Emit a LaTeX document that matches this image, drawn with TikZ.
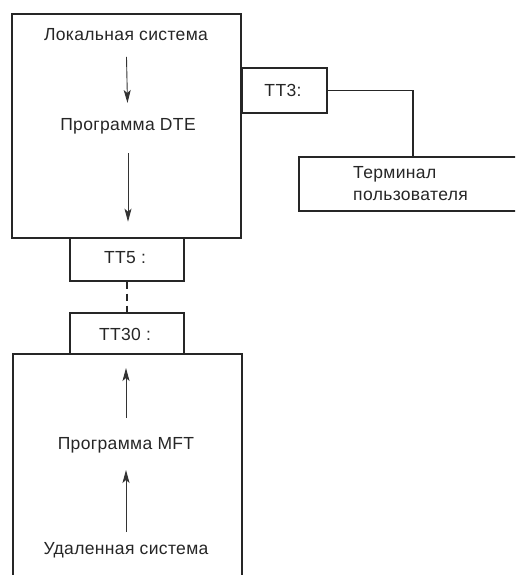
\documentclass[tikz,border=0pt]{standalone}
\usepackage{fontspec}
\setmainfont{Liberation Sans}
\newfontfamily\labelfont[LetterSpace=2]{Liberation Sans}
\usetikzlibrary{arrows.meta}

\tikzset{
  frame/.style={draw=black!85, line width=1.7pt, anchor=north west, inner sep=0pt},
  label/.style={text=black!85, font=\labelfont\fontsize{17.5}{22}\selectfont, inner sep=0pt},
  flow/.style={draw=black!80, line width=0.9pt, -{Stealth[length=13pt,width=7pt,inset=3pt]}},
  link/.style={draw=black!85, line width=1.3pt},
}

\begin{document}
\begin{tikzpicture}[x=1pt, y=-1pt]
  \useasboundingbox (0,0) rectangle (515,575);
  \clip (0,0) rectangle (515,575);

  % local system and its ports
  \node[frame, minimum width=229pt, minimum height=224pt] (loc) at (11,13) {};
  \node[frame, minimum width=114pt, minimum height=43pt] (tt5) at (69,237) {};
  \node[frame, minimum width=85pt, minimum height=45pt] (tt3) at (241,67) {};

  % user terminal
  \node[frame, minimum width=228pt, minimum height=54pt] (term) at (298,156) {};

  % remote system and its port
  \node[frame, minimum width=114pt, minimum height=41pt] (tt30) at (69,312) {};
  \node[frame, minimum width=229pt, minimum height=250pt] (rem) at (12,353) {};

  % texts
  \node[label] (l1) at (126,35) {Локальная система};
  \node[label] (p1) at (128,126) {Программа DTE};
  \node[label] (t5) at (125,258) {TT5 :};
  \node[label] (t3) at (283,90) {TT3:};
  \node[label, anchor=west, align=left] (tu) at (353,184) {Терминал\\пользователя};
  \node[label] (t30) at (125,334) {TT30 :};
  \node[label] (p2) at (126,445) {Программа MFT};
  \node[label] (r1) at (126,550) {Удаленная система};

  % data flow inside the systems
  \draw[flow, shorten <=22pt, shorten >=23pt] (l1.center) -- (p1.center);
  \draw[flow, shorten <=27pt, shorten >=17pt] (p1.center) -- (p1.center |- loc.south);
  \draw[flow, shorten <=18pt, shorten >=25pt] (r1.center) -- (p2.center);
  \draw[flow, shorten <=27pt, shorten >=15pt] (p2.center) -- (p2.center |- rem.north);

  % connections between ports
  \draw[link] (tt3.east) -| (term.north);
  \draw[link, dash pattern=on 7pt off 5pt] (tt5.south) -- (tt30.north);
\end{tikzpicture}
\end{document}
